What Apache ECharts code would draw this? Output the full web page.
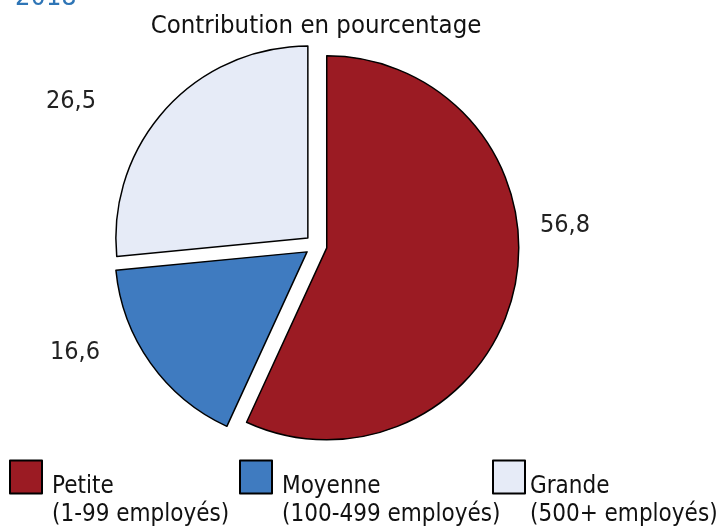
<!DOCTYPE html>
<html>
<head>
<meta charset="utf-8">
<script src="https://cdn.jsdelivr.net/npm/echarts@6/dist/echarts.min.js"></script>
<style>
html,body{margin:0;padding:0;background:#fff;}
#chart{width:716px;height:529px;}
</style>
</head>
<body>
<div id="chart"></div>
<script>
var categories = ['Petite', 'Moyenne', 'Grande'];
var subLabels = ['(1-99 employés)', '(100-499 employés)', '(500+ employés)'];
var values = [56.8, 16.6, 26.5];
var colors = ['#9B1B23', '#3F7BC0', '#E6EBF7'];
var titleText = 'Contribution en pourcentage';
var yearText = '2018';

var FONT = '"DejaVu Sans Condensed", "DejaVu Sans", sans-serif';
var labelPos = [[565, 225], [75, 352], [71, 101]];
var legendLeft = [9, 239, 492];
var legendTextGap = [5, 5, 0];

var chart = echarts.init(document.getElementById('chart'), null, {renderer: 'canvas'});

var legends = categories.map(function (c, i) {
  return {
    data: [c],
    left: legendLeft[i],
    top: 425,
    padding: 0,
    orient: 'horizontal',
    itemWidth: 32,
    itemHeight: 33,
    itemGap: 0,
    icon: 'rect',
    selectedMode: false,
    formatter: function (name) {
      return '{pad| }\n{a|' + name + '}\n{a|' + subLabels[categories.indexOf(name)] + '}';
    },
    textStyle: {
      fontFamily: FONT,
      fontSize: 24,
      color: '#111',
      rich: {
        pad: {height: 48, lineHeight: 48, fontSize: 10},
        a: {fontFamily: FONT, fontSize: 24, color: '#111', lineHeight: 28, padding: [0, 0, 0, legendTextGap[i]]}
      }
    }
  };
});

chart.setOption({
  animation: false,
  backgroundColor: '#fff',
  title: {
    text: titleText,
    left: 316,
    textAlign: 'center',
    top: 13,
    padding: 0,
    textStyle: {fontFamily: FONT, fontSize: 25.5, fontWeight: 'normal', color: '#111'}
  },
  graphic: [{
    type: 'text',
    x: 15,
    y: 11,
    style: {
      text: yearText,
      fontFamily: FONT,
      fontSize: 27,
      fill: '#2E75B6',
      verticalAlign: 'bottom'
    }
  }],
  legend: legends,
  series: [{
    type: 'pie',
    center: [316, 245.5],
    radius: 192,
    startAngle: 90,
    clockwise: true,
    selectedMode: 'multiple',
    selectedOffset: 11,
    emphasis: {disabled: true},
    itemStyle: {borderColor: '#000', borderWidth: 1.5},
    label: {show: false},
    labelLine: {show: false},
    data: categories.map(function (c, i) {
      return {name: c, value: values[i], selected: true, itemStyle: {color: colors[i]}};
    })
  }, {
    type: 'pie',
    name: 'labels',
    center: [316, 245.5],
    radius: 192,
    startAngle: 90,
    clockwise: true,
    silent: true,
    legendHoverLink: false,
    emphasis: {disabled: true},
    itemStyle: {color: 'rgba(0,0,0,0)', borderWidth: 0},
    label: {
      show: true,
      position: 'outside',
      formatter: function (p) { return String(p.value).replace('.', ','); },
      fontFamily: FONT,
      fontSize: 25,
      color: '#222'
    },
    labelLine: {show: false},
    labelLayout: function (p) {
      var pos = labelPos[p.dataIndex];
      return {x: pos[0], y: pos[1], align: 'center', verticalAlign: 'middle'};
    },
    data: categories.map(function (c, i) {
      return {name: c, value: values[i]};
    })
  }]
});
</script>
</body>
</html>
